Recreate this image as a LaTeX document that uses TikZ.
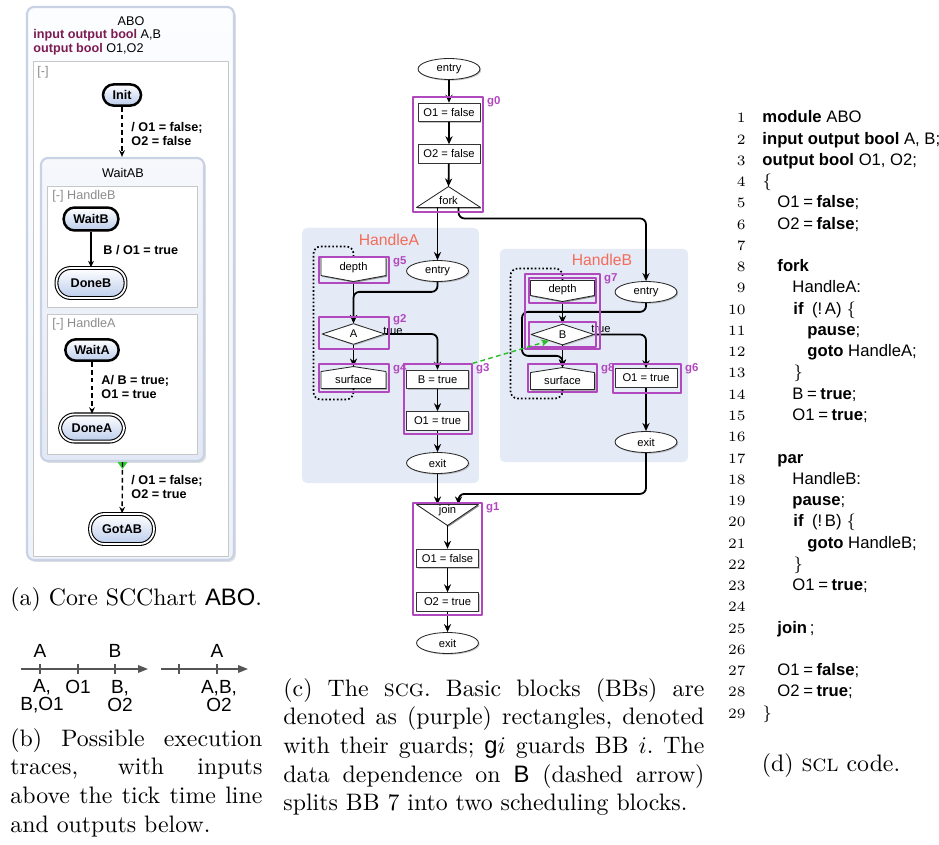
\documentclass[tikz,border=0pt]{standalone}
\usepackage{fontspec}
\setsansfont{Liberation Sans}
\usetikzlibrary{shapes.geometric,arrows.meta,calc,shadows,fit}

\definecolor{kwcol}{RGB}{125,27,82}
\definecolor{stblue}{RGB}{188,205,236}
\definecolor{frameblue}{RGB}{200,210,228}
\definecolor{bbpurple}{RGB}{178,72,190}
\definecolor{regionfill}{RGB}{228,234,246}
\definecolor{regiontitle}{RGB}{243,108,90}
\definecolor{depgreen}{RGB}{40,190,40}
\definecolor{termgreen}{RGB}{50,205,50}
\definecolor{axisgray}{RGB}{85,85,85}

\newcommand\chartfont{\sffamily\fontsize{5.3}{5.9}\selectfont}
\newcommand\scgfont{\sffamily\fontsize{4.7}{5.5}\selectfont}
\newcommand\guardfont{\sffamily\bfseries\fontsize{4.8}{5.5}\selectfont}
\newcommand\regionfont{\sffamily\fontsize{6.6}{7.5}\selectfont}
\newcommand\tracefont{\sffamily\fontsize{8}{7.8}\selectfont}
\newcommand\codefont{\sffamily\fontsize{7}{8.9}\selectfont}
\newcommand\linenofont{\rmfamily\fontsize{6}{7}\selectfont}
\newcommand\capfont{\rmfamily\fontsize{10}{12}\selectfont}
\newcommand\asg{\kern1.5pt=\kern1.5pt}

\begin{document}
\begin{tikzpicture}[x=0.42pt,y=-0.42pt,line join=round,
  % SCChart
  outerst/.style={rectangle, rounded corners=3pt, draw=frameblue, line width=0.9pt,
    top color={rgb,255:red,252;green,253;blue,255}, bottom color={rgb,255:red,238;green,242;blue,250},
    inner sep=0pt, drop shadow={opacity=0.25,shadow xshift=0.8pt,shadow yshift=-0.8pt}},
  superst/.style={rectangle, rounded corners=3pt, draw=frameblue, line width=0.9pt,
    top color={rgb,255:red,246;green,248;blue,252}, bottom color={rgb,255:red,226;green,232;blue,245},
    inner sep=0pt, drop shadow={opacity=0.25,shadow xshift=0.8pt,shadow yshift=-0.8pt}},
  regionbox/.style={rectangle, draw=black!22, line width=0.4pt, fill=white, inner sep=0pt},
  graylab/.style={font=\chartfont, text=black!45, anchor=west, inner sep=0pt},
  state/.style={rectangle, rounded corners=4.5pt, draw=black, line width=1.05pt,
    top color=white, bottom color=stblue, font=\chartfont\bfseries, inner sep=0pt,
    drop shadow={opacity=0.2,shadow xshift=0.5pt,shadow yshift=-0.5pt}},
  finalst/.style={rectangle, rounded corners=6pt, draw=black, line width=0.45pt,
    double=white, double distance=0.75pt, top color=white, bottom color=stblue,
    font=\chartfont\bfseries, inner sep=0pt,
    drop shadow={opacity=0.2,shadow xshift=0.5pt,shadow yshift=-0.5pt}},
  trans/.style={-{Stealth[length=2.8pt,width=2.4pt]}, line width=0.6pt},
  dtrans/.style={trans, dash pattern=on 2pt off 1.3pt},
  tlab/.style={font=\chartfont\bfseries, align=left, anchor=west, inner sep=0pt},
  % traces
  timeaxis/.style={draw=axisgray, line width=0.65pt, -{Triangle[length=4.2pt,width=3.2pt]}},
  tickmark/.style={draw=axisgray, line width=0.65pt},
  tr/.style={font=\tracefont, align=center, inner sep=0pt},
  % SCG
  act/.style={rectangle, draw=black!80, line width=0.35pt, fill=white, minimum width=26pt,
    minimum height=7.8pt, inner sep=0pt, font=\scgfont,
    drop shadow={opacity=0.45,shadow xshift=0.5pt,shadow yshift=-0.5pt}},
  term/.style={ellipse, draw=black!85, line width=0.35pt, fill=white, minimum width=26pt,
    minimum height=8.8pt, inner sep=0pt, font=\scgfont,
    drop shadow={opacity=0.45,shadow xshift=0.5pt,shadow yshift=-0.5pt}},
  cond/.style={diamond, draw=black!85, line width=0.35pt, fill=white, minimum width=26.5pt,
    minimum height=8.8pt, inner sep=0pt, font=\scgfont,
    drop shadow={opacity=0.45,shadow xshift=0.5pt,shadow yshift=-0.5pt}},
  shp/.style={rectangle, inner sep=0pt},
  outl/.style={draw=black!85, line width=0.35pt, fill=white,
    preaction={fill=black!45, transform canvas={shift={(0.5pt,-0.5pt)}}}},
  scgtxt/.style={font=\scgfont, inner sep=0pt},
  flow/.style={-{Stealth[length=3.4pt,width=3pt]}, line width=0.75pt, rounded corners=2.5pt},
  pauseloop/.style={line width=0.7pt, dash pattern=on 0.7pt off 0.9pt, rounded corners=3pt},
  bbox/.style={draw=bbpurple, line width=0.55pt, inner sep=0pt},
  glab/.style={font=\guardfont, text=bbpurple, inner sep=0pt, anchor=west},
  regionbg/.style={rectangle, fill=regionfill, rounded corners=2pt, inner sep=0pt},
  rtitle/.style={font=\regionfont, text=regiontitle, inner sep=0pt},
  dep/.style={draw=depgreen, line width=0.6pt, dash pattern=on 2pt off 1.4pt,
    -{Stealth[length=3.4pt,width=3pt]}},
  % code
  lnum/.style={anchor=base east, font=\linenofont, inner sep=0pt},
  codeline/.style={anchor=base west, font=\codefont, inner sep=0pt},
  captext/.style={font=\capfont, inner sep=0pt}
]
\useasboundingbox (0,0) rectangle (939,844);

% ================= (a) SCChart ABO =================
\node[outerst, minimum width=86.9pt, minimum height=232.3pt] (abo) at (130.5,283.5) {};
\node[font=\chartfont] (abot) at (131,21) {ABO};
\node[font=\chartfont, anchor=west, inner sep=0pt] (decA) at (33,35)
  {\textbf{\color{kwcol}input output bool} A,B};
\node[font=\chartfont, anchor=west, inner sep=0pt] (decB) at (33,49)
  {\textbf{\color{kwcol}output bool} O1,O2};
\node[regionbox, minimum width=81.9pt, minimum height=207.5pt] (mainreg) at (130.5,309) {};
\node[graylab] (mainregt) at (37,72) {[-]};
\node[state, minimum width=16pt, minimum height=8.9pt] (init) at (122,95) {Init};
\node[superst, minimum width=68.5pt, minimum height=127.3pt] (waitab) at (122.5,309.5) {};
\node[font=\chartfont] (waitabt) at (123,173) {WaitAB};

\node[regionbox, minimum width=63pt, minimum height=51.2pt] (regb) at (122,247) {};
\node[graylab] (regbt) at (52,196) {[-] HandleB};
\node[state, minimum width=22.9pt, minimum height=9.6pt] (waitb) at (91,219) {WaitB};
\node[finalst, minimum width=29pt, minimum height=12.6pt] (doneb) at (91,283) {DoneB};
\draw[trans] (waitb) -- (doneb);
\node[tlab] (tb) at (103,250) {B / O1 = true};

\node[regionbox, minimum width=63pt, minimum height=58.8pt] (rega) at (122,384) {};
\node[graylab] (regat) at (52,324) {[-] HandleA};
\node[state, minimum width=22.4pt, minimum height=9pt] (waita) at (92,350) {WaitA};
\node[finalst, minimum width=26.8pt, minimum height=11.4pt] (donea) at (92,428) {DoneA};
\draw[dtrans] (waita) -- (donea);
\node[tlab] (ta) at (101,387) {A/ B = true;\\O1 = true};

\draw[dtrans] (init) -- (init |- waitab.north);
\node[tlab] (ti) at (131,134) {/ O1 = false;\\O2 = false};

\node[finalst, minimum width=26.8pt, minimum height=12.6pt] (gotab) at (122,529) {GotAB};
\fill[termgreen] ($(waitab.south)+(-5,0)$) -- ($(waitab.south)+(5,0)$)
  -- ($(waitab.south)+(0,7)$) -- cycle;
\draw[dtrans] (waitab.south) -- (gotab);
\node[tlab] (tg) at (131,487) {/ O1 = false;\\O2 = true};

\node[captext, anchor=base west] (capa) at (10,605) {(a) Core SCChart \textsf{ABO}.};

% ================= (b) execution traces =================
\coordinate (t1s) at (21,669);
\coordinate (t1e) at (148,669);
\draw[timeaxis] (t1s) -- (t1e);
\foreach \x in {40,78,115} \draw[tickmark] (\x,664) -- (\x,674);
\node[tr] (in1) at (40,651) {A};
\node[tr] (in2) at (115,651) {B};
\node[tr] (out1) at (42,696) {A,\\B,O1};
\node[tr] (out2) at (78,687) {O1};
\node[tr] (out3) at (120,696) {B,\\O2};

\coordinate (t2s) at (161,669);
\coordinate (t2e) at (248,669);
\draw[timeaxis] (t2s) -- (t2e);
\foreach \x in {179,217} \draw[tickmark] (\x,664) -- (\x,674);
\node[tr] (in3) at (217,651) {A};
\node[tr] (out4) at (219,696) {A,B,\\O2};

\node[captext, anchor=north west, text width=105.8pt, align=justify] (capb) at (10,728)
  {\hyphenpenalty=10000\tolerance=10000
   (b) Possible execution\linebreak traces, with inputs\linebreak
   above the tick time line\linebreak and outputs below.};

% ================= (c) SCG =================
\node[regionbg, minimum width=74.3pt, minimum height=107.1pt] (regA) at (390.5,355.5) {};
\node[regionbg, minimum width=79pt, minimum height=89.5pt] (regB) at (594,355.5) {};
\node[rtitle] (regAt) at (389,240) {HandleA};
\node[rtitle] (regBt) at (602,260) {HandleB};

% entry block
\node[term] (en0) at (449,69) {entry};
\node[act] (a1) at (449,112.5) {O1 = false};
\node[act] (a2) at (449,154) {O2 = false};
\node[shp, minimum width=26.5pt, minimum height=8.4pt] (fork) at (448.5,197) {};
\draw[outl] (fork.south west) -- (fork.north) -- (fork.south east) -- cycle;
\node[scgtxt] (forkt) at (448.5,201) {fork};

% thread HandleA
\node[shp, minimum width=26.9pt, minimum height=9.7pt] (dA) at (353.5,269.5) {};
\draw[outl] (dA.north west) -- (dA.north east) -- ($(dA.south east)+(0,-6)$)
  -- (dA.south) -- ($(dA.south west)+(0,-6)$) -- cycle;
\node[scgtxt] (dAt) at (353.5,268) {depth};
\node[term] (enA) at (437.5,271) {entry};
\node[cond] (cA) at (353.5,334) {A};
\node[shp, minimum width=26.9pt, minimum height=8.8pt] (sA) at (353.5,377.5) {};
\draw[outl] (sA.south west) -- (sA.south east) -- ($(sA.north east)+(0,5)$)
  -- (sA.north) -- ($(sA.north west)+(0,5)$) -- cycle;
\node[scgtxt] (sAt) at (353.5,379.5) {surface};
\node[act] (bA) at (437.5,379.5) {B = true};
\node[act] (oA) at (437.5,421) {O1 = true};
\node[term] (exA) at (437.5,463) {exit};
\node[scgtxt] (tA) at (393,331) {true};

% thread HandleB
\node[shp, minimum width=26.5pt, minimum height=8.4pt] (dB) at (562.5,291) {};
\draw[outl] (dB.north west) -- (dB.north east) -- ($(dB.south east)+(0,-6)$)
  -- (dB.south) -- ($(dB.south west)+(0,-6)$) -- cycle;
\node[scgtxt] (dBt) at (562.5,289.5) {depth};
\node[term] (enB) at (646,292) {entry};
\node[cond] (cB) at (562.5,334.5) {B};
\node[shp, minimum width=26.5pt, minimum height=8.8pt] (sB) at (562.5,378.5) {};
\draw[outl] (sB.south west) -- (sB.south east) -- ($(sB.north east)+(0,5)$)
  -- (sB.north) -- ($(sB.north west)+(0,5)$) -- cycle;
\node[scgtxt] (sBt) at (562.5,380.5) {surface};
\node[act] (oB) at (646,378) {O1 = true};
\node[term] (exB) at (646,442) {exit};
\node[scgtxt] (tB) at (601,329) {true};

% join block
\node[shp, minimum width=25.6pt, minimum height=8.4pt] (jn) at (447.5,515) {};
\draw[outl] (jn.north west) -- (jn.north east) -- (jn.south) -- cycle;
\node[scgtxt] (jnt) at (447.5,511) {join};
\node[act] (a3) at (447.5,558.5) {O1 = false};
\node[act] (a4) at (447.5,602) {O2 = true};
\node[term] (ex0) at (447.5,643) {exit};

% control flow
\draw[flow] (en0) -- (a1);
\draw[flow] (a1) -- (a2);
\draw[flow] (a2) -- (fork.north);
\draw[flow] (fork.south -| enA.north) -- (enA.north);
\draw[flow] ($(fork.south)+(10,0)$) -- ++(0,11) -| (enB.north);
\draw[flow] (dA.south) -- (cA.north);
\draw[flow] (enA.south) -- ++(0,10) -| (cA.north);
\draw[flow] (cA.south) -- (sA.north);
\draw[flow] (cA.east) -| (bA.north);
\draw[flow] (bA) -- (oA);
\draw[flow] (oA) -- (exA);
\draw[flow] (exA.south) -- (exA.south |- jn.north);
\draw[flow] (dB.south) -- (cB.north);
\draw[flow] (enB.south) -- ++(0,9) -- ++(-124,0) -- ++(0,44) -| (sB.north);
\draw[flow] (cB.south) -- (sB.north);
\draw[flow] (cB.east) -| (oB.north);
\draw[flow] (oB) -- (exB);
\draw[flow] (exB.south) -- ++(0,41) -| ($(jn.north)+(11,0)$);
\draw[flow] (jn.south) -- (a3.north);
\draw[flow] (a3) -- (a4);
\draw[flow] (a4) -- (ex0);

% pause tick edges
\draw[pauseloop] (sA.south) -- ++(0,11) -- ++(-40,0) |- ($(dA.north)+(0,-11)$) -- (dA.north);
\draw[pauseloop] (sB.south) -- ++(0,9) -- ++(-52,0) |- ($(dB.north)+(0,-12)$) -- (dB.north);

% basic blocks with their guards
\node[bbox, fit={(413,97) (483,212)}] (bb0) {};
\node[bbox, fit={(413,503) (482,615)}] (bb1) {};
\node[bbox, fit={(319,317) (389,349)}] (bb2) {};
\node[bbox, fit={(404,364) (472,434)}] (bb3) {};
\node[bbox, fit={(319,364) (389,392)}] (bb4) {};
\node[bbox, fit={(319,257) (389,283)}] (bb5) {};
\node[bbox, fit={(613,364) (681,393)}] (bb6) {};
\node[bbox, fit={(525,274) (600,349)}] (bb7) {};
\node[bbox, fit={(529,278) (596,303)}] (bb7a) {};
\node[bbox, fit={(529,322) (596,347)}] (bb7b) {};
\node[bbox, fit={(528,364) (597,392)}] (bb8) {};
\foreach \b/\g in {bb0/g0,bb1/g1,bb3/g3,bb4/g4,bb5/g5,bb6/g6,bb7/g7,bb8/g8}
  \node[glab] (lab\g) at ($(\b.north east)+(3,5)$) {\g};
\node[glab] (labg2) at ($(bb2.north east)+(3,3)$) {g2};

% data dependence on B
\draw[dep] (bb3.north east) -- (cB.205);

\node[captext, anchor=north west, text width=176.8pt, align=justify] (capc) at (283,678)
  {\hyphenpenalty=10000\tolerance=10000\frenchspacing
   (c) The \textsc{scg}. Basic blocks (BBs) are\linebreak
   denoted as (purple) rectangles, denoted\linebreak
   with their guards; \textsf{g}$i$ guards BB $i$. The\linebreak
   data dependence on \textsf{B} (dashed arrow)\linebreak
   splits BB 7 into two scheduling blocks.};

% ================= (d) SCL code =================
\foreach \n/\ind/\txt in {
  1/0/{\textbf{module} ABO},
  2/0/{\textbf{input output bool} A, B;},
  3/0/{\textbf{output bool} O1, O2;},
  4/0/{$\{$},
  5/15/{O1\asg\textbf{false};},
  6/15/{O2\asg\textbf{false};},
  7/15/{},
  8/15/{\textbf{fork}},
  9/30/{HandleA:},
  10/31/{\textbf{if}\hspace{3.5pt}(!\,A)\hspace{2pt}$\{$},
  11/45/{\textbf{pause};},
  12/45/{\textbf{goto} HandleA;},
  13/31/{$\}$},
  14/30/{B\asg\textbf{true};},
  15/30/{O1\asg\textbf{true};},
  16/30/{},
  17/15/{\textbf{par}},
  18/30/{HandleB:},
  19/30/{\textbf{pause};},
  20/31/{\textbf{if}\hspace{3.5pt}(!\,B)\hspace{2pt}$\{$},
  21/45/{\textbf{goto} HandleB;},
  22/31/{$\}$},
  23/30/{O1\asg\textbf{true};},
  24/30/{},
  25/15/{\textbf{join}\,;},
  26/15/{},
  27/15/{O1\asg\textbf{false};},
  28/15/{O2\asg\textbf{true};},
  29/0/{$\}$}}{
  \node[lnum] (ln\n) at (746,{123+21.25*(\n-1)}) {\n};
  \node[codeline] (cl\n) at ({762+\ind},{123+21.25*(\n-1)}) {\txt};
}

\node[captext, anchor=base] (capd) at (831,771) {(d) \textsc{scl} code.};
\end{tikzpicture}
\end{document}
